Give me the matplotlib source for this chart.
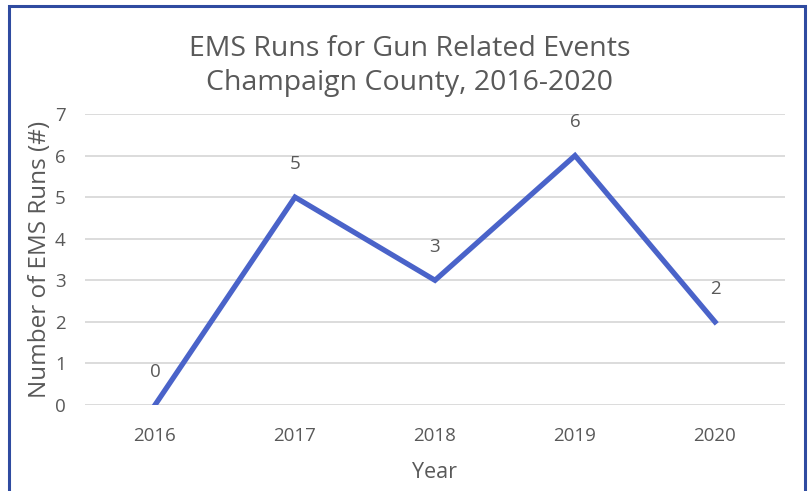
import matplotlib.pyplot as plt
from matplotlib.patches import Rectangle

# data
years = ["2016", "2017", "2018", "2019", "2020"]
runs = [0, 5, 3, 6, 2]

text_col = "#595959"
line_col = "#4A63C9"

plt.rcParams['font.family'] = ['Open Sans', 'DejaVu Sans']

fig = plt.figure(figsize=(8.1, 4.91), dpi=100)
ax = fig.add_axes([85 / 810, 1 - 405 / 491, 700 / 810, 291 / 491])

x = list(range(len(years)))
ax.plot(x, runs, color=line_col, linewidth=3.8, solid_joinstyle='miter')

# data labels above each point
for xi, v in zip(x, runs):
    ax.annotate(str(v), (xi, v), xytext=(0, 24), textcoords='offset points',
                ha='center', va='center', fontsize=13.5, color=text_col)

ax.set_xlim(-0.5, len(years) - 0.5)
ax.set_ylim(0, 7)
ax.set_xticks(x)
ax.set_xticklabels(years)
ax.set_yticks(range(0, 8))
ax.grid(axis='y', color='#D9D9D9', linewidth=1.3)
ax.set_axisbelow(True)
ax.tick_params(length=0, labelsize=13.5, labelcolor=text_col)
ax.tick_params(axis='x', pad=16)
ax.tick_params(axis='y', pad=14)
for s in ax.spines.values():
    s.set_visible(False)

ax.set_xlabel("Year", fontsize=15.5, color=text_col, labelpad=12)
ax.set_ylabel("Number of EMS Runs (#)", fontsize=17.5, color=text_col, labelpad=2)

fig.text(410 / 810, 1 - 66 / 491, "EMS Runs for Gun Related Events\nChampaign County, 2016-2020",
         ha='center', va='center', fontsize=20.5, color=text_col, linespacing=1.32)

# chart border
fig.patches.append(Rectangle((9 / 810, -0.05), 796 / 810, 1.05 - 6 / 491,
                             transform=fig.transFigure, fill=False,
                             edgecolor='#2F4BA0', linewidth=2.2))

fig.savefig("out.png", dpi=100)
